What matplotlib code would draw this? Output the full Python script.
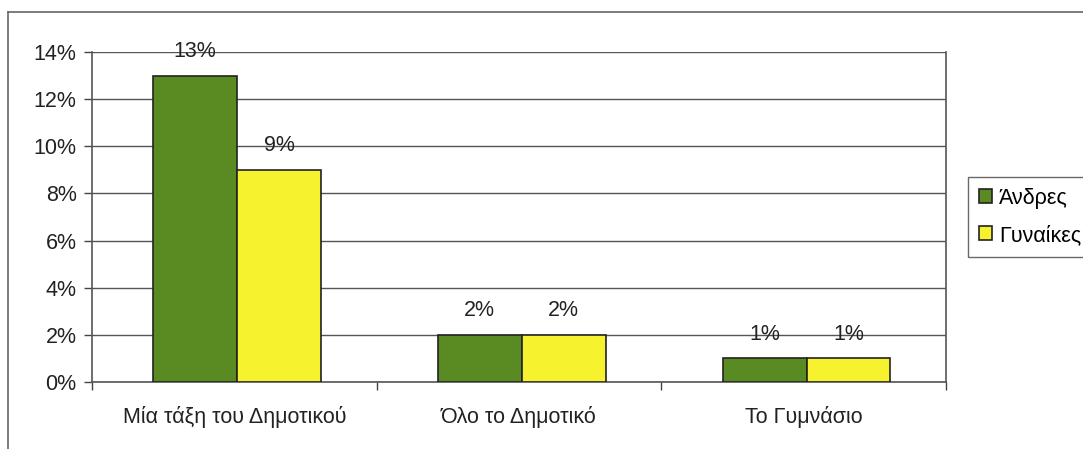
import matplotlib
matplotlib.use("Agg")
import matplotlib.pyplot as plt
from matplotlib.lines import Line2D
import numpy as np

categories = ["Μία τάξη του Δημοτικού", "Όλο το Δημοτικό", "Το Γυμνάσιο"]
series_names = ["Άνδρες", "Γυναίκες"]
andres = [13, 2, 1]
gynaikes = [9, 2, 1]
yticks = [0, 2, 4, 6, 8, 10, 12, 14]

plt.rcParams['font.family'] = ['Liberation Sans', 'DejaVu Sans']
FS = 15.5

W, H = 1083, 449
fig = plt.figure(figsize=(W/100, H/100), dpi=100, facecolor='white')
ax = fig.add_axes([92/W, 1-382/H, (946-92)/W, (382-52)/H])

x = np.arange(len(categories))
bw = 0.295
off = 0.01
green = '#5a8a22'
yellow = '#f7f22e'
b1 = ax.bar(x - bw/2 + off, andres, bw, color=green, edgecolor='#222222', linewidth=1.2, label=series_names[0], zorder=3)
b2 = ax.bar(x + bw/2 + off, gynaikes, bw, color=yellow, edgecolor='#222222', linewidth=1.2, label=series_names[1], zorder=3)

for bars, vals in ((b1, andres), (b2, gynaikes)):
    for r, v in zip(bars, vals):
        ax.annotate(f"{v}%", (r.get_x() + r.get_width()/2, v), xytext=(0, 10),
                    textcoords='offset points', ha='center', va='bottom',
                    fontsize=FS, color='#222222', zorder=4)

ax.set_xlim(-0.5, len(categories) - 0.5)
ax.set_ylim(0, 14)
ax.set_yticks(yticks)
ax.set_yticklabels([f"{t}%" for t in yticks], fontsize=FS, color='#222222')
ax.yaxis.grid(True, color='#555555', linewidth=1.0, zorder=0)
ax.set_axisbelow(True)

ax.set_xticks(x)
ax.set_xticklabels(categories, fontsize=FS, color='#222222')
ax.tick_params(axis='x', length=0, pad=17)
ax.set_xticks(np.arange(-0.5, len(categories)), minor=True)
ax.tick_params(axis='x', which='minor', length=6, color='#444444', width=1)
ax.tick_params(axis='y', length=6, color='#444444', width=1, pad=5)

for side in ('left', 'bottom', 'right'):
    ax.spines[side].set_color('#555555')
    ax.spines[side].set_linewidth(1.2)
ax.spines['top'].set_visible(False)

leg = fig.legend(handles=[b1, b2], labels=series_names, loc='upper left',
                 bbox_to_anchor=(968/W, 1-177/H), frameon=True, fontsize=FS,
                 handlelength=0.6, handleheight=0.6, handletextpad=0.35,
                 borderpad=0.5, labelspacing=0.75, fancybox=False,
                 borderaxespad=0)
leg.get_frame().set_edgecolor('#444444')
leg.get_frame().set_linewidth(1.0)

# outer chart frame
fig.add_artist(Line2D([8/W, 1.0], [1-12/H, 1-12/H], color='#666666', linewidth=1.2, transform=fig.transFigure))
fig.add_artist(Line2D([8/W, 8/W], [1-12/H, 0.0], color='#666666', linewidth=1.2, transform=fig.transFigure))

fig.savefig('out.png', dpi=100, facecolor='white')
